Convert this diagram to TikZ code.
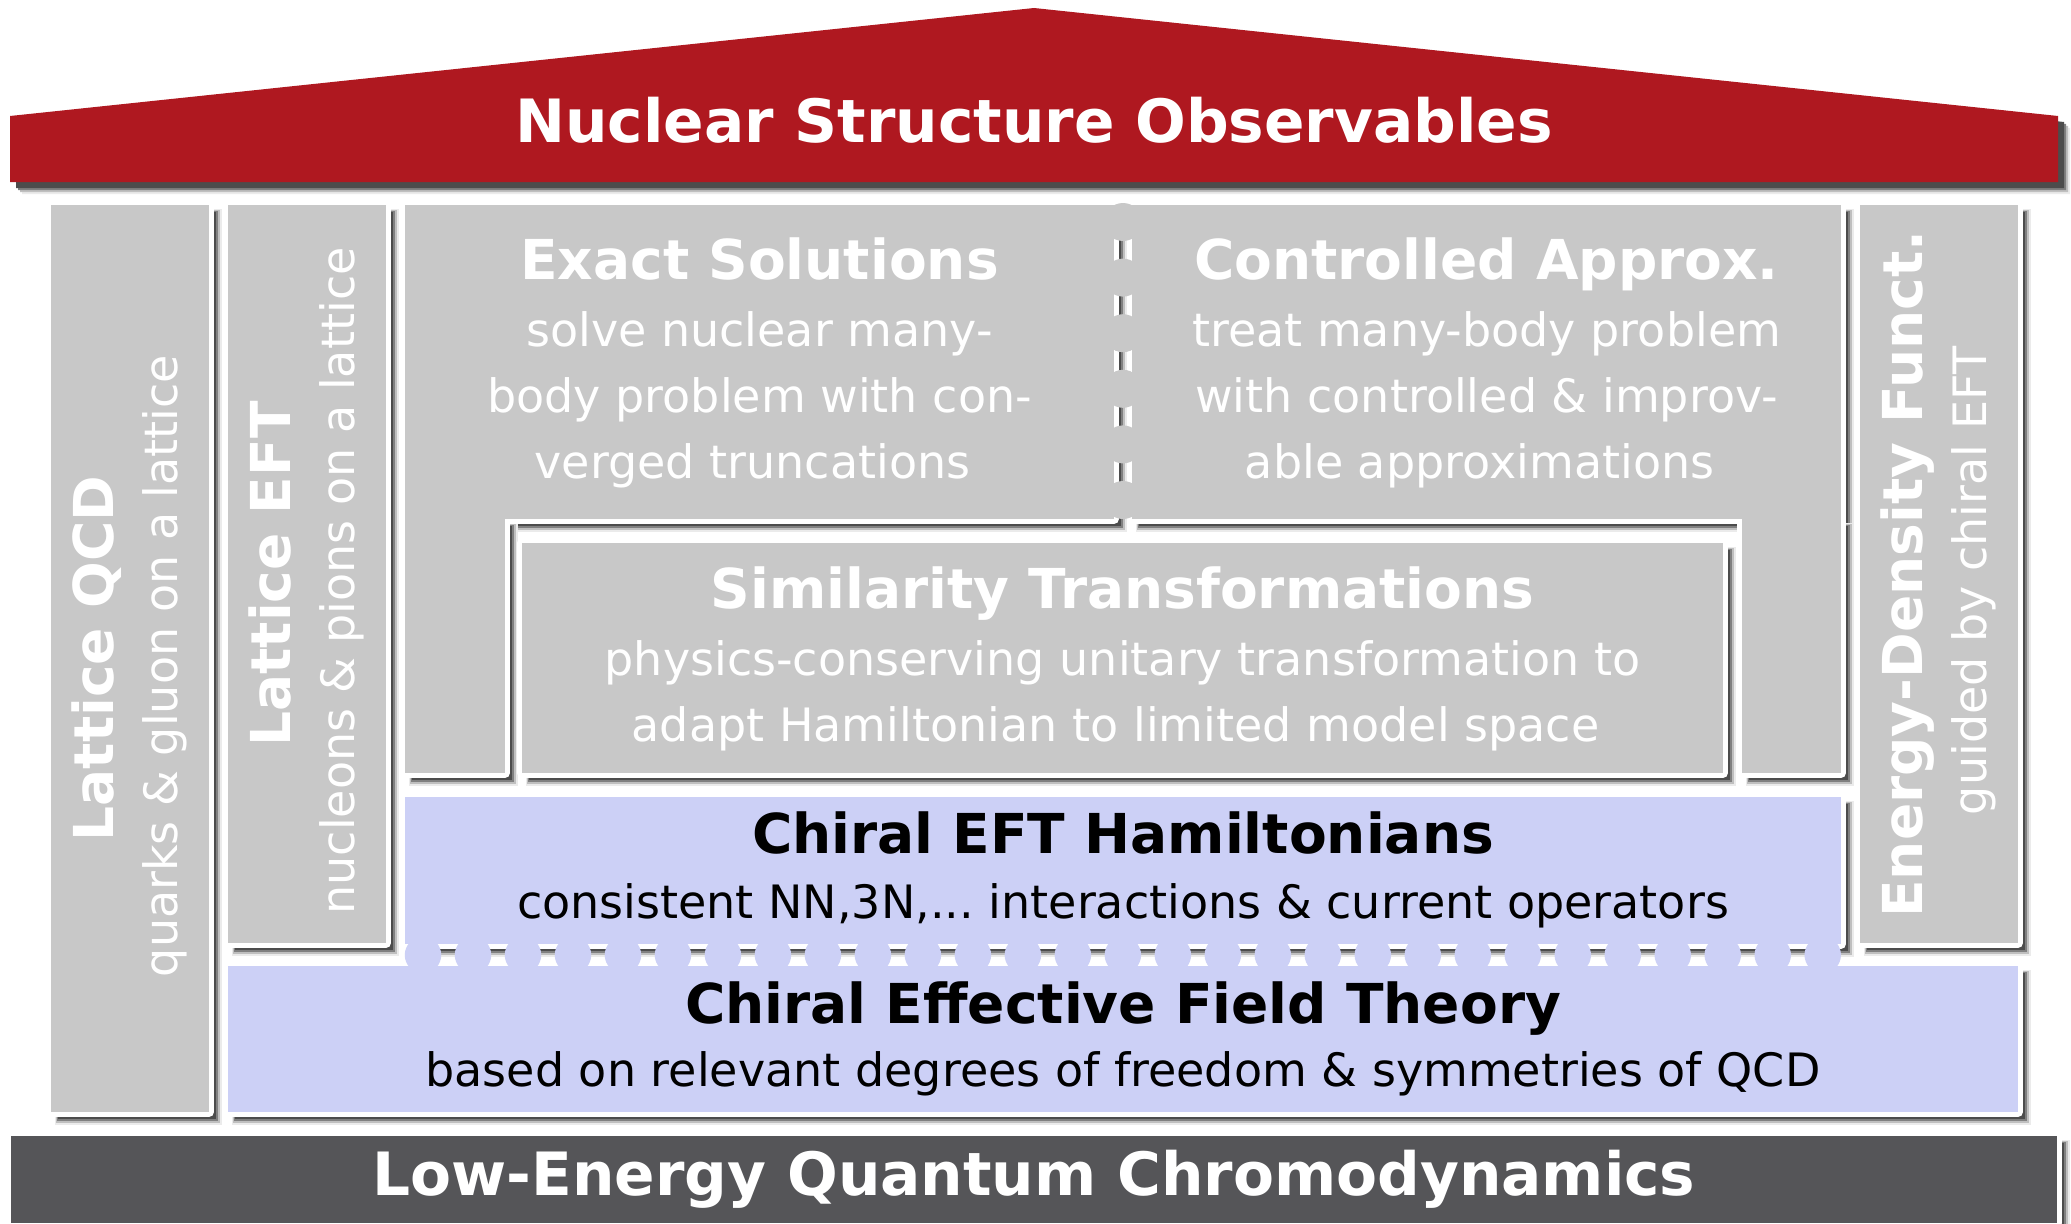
\documentclass[tikz,border=0pt]{standalone}
\usepackage{fontspec}
\setmainfont{DejaVu Sans}
\pgfdeclarelayer{bglayer}
\pgfdeclarelayer{shadowlayer}
\pgfdeclarelayer{halolayer}
\pgfsetlayers{bglayer,shadowlayer,halolayer,main}
\definecolor{roofred}{RGB}{175,24,32}
\definecolor{boxgray}{RGB}{200,200,200}
\definecolor{lav}{RGB}{204,208,246}
\definecolor{darkbar}{RGB}{85,85,88}

\newcommand\boxshadow[4]{%
  \fill[black!8]  ({#1+4},{#2+4}) rectangle ({#3+13},{#4+13});
  \fill[black!25] ({#1+5},{#2+5}) rectangle ({#3+11},{#4+11});
  \fill[black!50] ({#1+6},{#2+6}) rectangle ({#3+9},{#4+9});
  \fill[black!70] ({#1+7},{#2+7}) rectangle ({#3+7},{#4+7});
}
\newcommand\mkbox[6]{%
  \begin{pgfonlayer}{shadowlayer}\boxshadow{#2}{#3}{#4}{#5}\end{pgfonlayer}
  \begin{pgfonlayer}{halolayer}\draw[white,line width=10pt,line join=round] (#2,#3) rectangle (#4,#5);\end{pgfonlayer}
  \node[boxnode,fill=#6,minimum width={#4-#2},minimum height={#5-#3}] (#1) at (#2,#3) {};%
}

\begin{document}
\begin{tikzpicture}[x=1pt,y=-1pt,
  boxnode/.style={draw=none,inner sep=0pt,outer sep=0pt,anchor=north west},
  bigtxt/.style={font=\fontsize{59.7}{70}\selectfont\bfseries,text=white,inner sep=0pt,anchor=base},
  ttl/.style={font=\fontsize{55}{60}\selectfont\bfseries,inner sep=0pt,anchor=base},
  sub/.style={font=\fontsize{46}{55}\selectfont,inner sep=0pt,anchor=base},
  wt/.style={text=white},
  bk/.style={text=black},
  vert/.style={rotate=90},
  vdots/.style={boxgray,line width=38pt,line cap=round,dash pattern=on 0pt off 55.6pt},
  hdots/.style={lav,line width=36.5pt,line cap=round,dash pattern=on 0pt off 49.99pt}]

\useasboundingbox (0,0) rectangle (2071,1223);
\begin{pgfonlayer}{bglayer}
  \fill[white] (0,0) rectangle (2071,1223);
\end{pgfonlayer}

% roof
\begin{pgfonlayer}{shadowlayer}
  \foreach \s/\c in {12/black!8,10/black!25,8/black!50,6/black!70}
    \fill[\c,shift={(\s,\s)}] (10,116) -- (1034,8) -- (2058,116) -- (2058,182) -- (10,182) -- cycle;
\end{pgfonlayer}
\fill[roofred] (10,116) -- (1034,8) -- (2058,116) -- (2058,182) -- (10,182) -- cycle;

% boxes
\mkbox{qcd}{51}{205}{209}{1112}{boxgray}
\mkbox{left}{228}{205}{386}{943}{boxgray}
\mkbox{edf}{1860}{205}{2018}{943}{boxgray}
\mkbox{exbar}{405}{205}{1114}{519}{boxgray}
\mkbox{ctbar}{1132}{205}{1841}{519}{boxgray}
\mkbox{exleg}{405}{519}{505}{773}{boxgray}
\mkbox{ctleg}{1742}{519}{1841}{773}{boxgray}
\mkbox{sim}{522}{543}{1723}{773}{boxgray}
\mkbox{ham}{405}{797}{1841}{944}{lav}
\mkbox{chi}{228}{966}{2018}{1112}{lav}
\mkbox{low}{11}{1136}{2057}{1223}{darkbar}

% dotted links
\draw[vdots] ([xshift=9pt,yshift=-17pt]exbar.north east) -- ([xshift=9pt,yshift=18.5pt]exbar.south east);
\draw[hdots] ([xshift=18pt,yshift=-11pt]ham.south west) -- ([xshift=-18pt,yshift=-11pt]ham.south east);

% texts
\node[bigtxt] (troof) at (1034,142) {Nuclear Structure Observables};
\node[bigtxt] (tlow) at (1034,1195) {Low-Energy Quantum Chromodynamics};

\node[ttl,wt] (tex) at (759.5,279) {Exact Solutions};
\node[sub,wt] (tex1) at (759.5,346) {solve nuclear many-};
\node[sub,wt] (tex2) at (759.5,412) {body problem with con-};
\node[sub,wt] (tex3) at (752.5,478) {verged truncations};

\node[ttl,wt] (tct) at (1486.5,279) {Controlled Approx.};
\node[sub,wt] (tct1) at (1486.5,346) {treat many-body problem};
\node[sub,wt] (tct2) at (1486.5,412) {with controlled \& improv-};
\node[sub,wt] (tct3) at (1479.5,478) {able approximations};

\node[ttl,wt] (tsim) at (1122.5,608) {Similarity Transformations};
\node[sub,wt] (tsim1) at (1122.5,675) {physics-conserving unitary transformation to};
\node[sub,wt] (tsim2) at (1115.5,741) {adapt Hamiltonian to limited model space};

\node[ttl,bk] (tham) at (1123,853) {Chiral EFT Hamiltonians};
\node[sub,bk] (tham1) at (1123,918) {consistent NN,3N,...\ interactions \& current operators};

\node[ttl,bk] (tchi) at (1123,1023) {Chiral Effective Field Theory};
\node[sub,bk] (tchi1) at (1123,1086) {based on relevant degrees of freedom \& symmetries of QCD};

\node[ttl,wt,vert] (tqcd) at (113,658.5) {Lattice QCD};
\node[sub,wt,vert] (tqcd1) at (177,666) {quarks \& gluon on a lattice};

\node[ttl,wt,vert] (tleft) at (290,574) {Lattice EFT};
\node[sub,wt,vert] (tleft1) at (354,581) {nucleons \& pions on a lattice};

\node[ttl,wt,vert] (tedf) at (1922,574) {Energy-Density Funct.};
\node[sub,wt,vert] (tedf1) at (1986,581) {guided by chiral EFT};
\end{tikzpicture}
\end{document}
